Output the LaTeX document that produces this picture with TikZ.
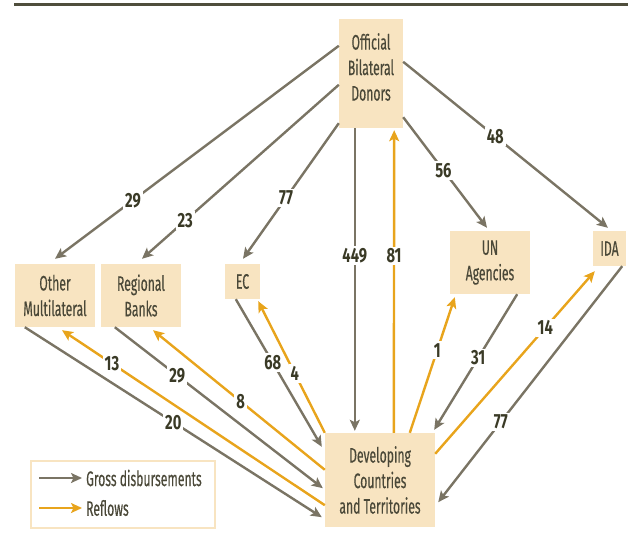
\documentclass[tikz,border=0pt]{standalone}
\usepackage{fontspec}
\setmainfont{Fira Sans}[FakeStretch=0.58,FakeBold=0.3]
\newfontfamily\lblfont{Fira Sans}[FakeStretch=0.72]
\usetikzlibrary{arrows.meta,calc}
\definecolor{boxfill}{HTML}{F8E4C1}
\definecolor{grayc}{HTML}{7A7464}
\definecolor{orangec}{HTML}{E8A41C}
\definecolor{boxtext}{HTML}{4A4838}
\definecolor{lblc}{HTML}{3A3A26}
\definecolor{rulec}{HTML}{4F4E3C}
\tikzset{
  box/.style={fill=boxfill, inner sep=0pt, anchor=center},
  btxt/.style={text=boxtext, align=center, font=\fontsize{21}{25.5}\selectfont, inner sep=0pt},
  gross/.style={draw=grayc, line width=2.4pt, -{Stealth[length=11pt,width=10pt,inset=2.5pt]}},
  refl/.style={draw=orangec, line width=2.4pt, -{Stealth[length=11pt,width=10pt,inset=2.5pt]}},
  lbl/.style={fill=white, text=lblc, font=\lblfont\bfseries\fontsize{20.5}{20.5}\selectfont, inner sep=2pt},
}
\begin{document}
\begin{tikzpicture}[x=1pt,y=-1pt]
\useasboundingbox (0,0) rectangle (629,535);
% top rule
\coordinate (r1) at (14,4.5);
\coordinate (r2) at (628,4.5);
\draw[rulec, line width=2.2pt] (r1) -- (r2);

% boxes
\node[box, minimum width=64, minimum height=109] (donor) at (371,73.5) {};
\node[btxt] (donortxt) at (371,67) {Official\\Bilateral\\Donors};
\node[box, btxt, fill=boxfill, minimum width=80, minimum height=63] (om) at (55,295.5) {Other\\Multilateral};
\node[box, btxt, fill=boxfill, minimum width=80, minimum height=63] (rb) at (141,295.5) {Regional\\Banks};
\node[box, btxt, fill=boxfill, minimum width=35, minimum height=35] (ec) at (242.5,281.5) {EC};
\node[box, btxt, fill=boxfill, minimum width=80, minimum height=63] (un) at (490,262.5) {UN\\Agencies};
\node[box, btxt, fill=boxfill, minimum width=33, minimum height=35] (ida) at (609.5,248.5) {IDA};
\node[box, btxt, fill=boxfill, minimum width=110, minimum height=94] (dev) at (380,480) {Developing\\Countries\\and Territories};

% donor outflows
\draw[gross] ([shift={(0,27)}]donor.north west) -- ([shift={(0,-5)}]om.north) node[lbl,pos=0.725]{29};
\draw[gross] ([shift={(0,66)}]donor.north west) -- ([shift={(1,-5)}]rb.north) node[lbl,pos=0.78]{23};
\draw[gross] ([shift={(0,-5)}]donor.south west) -- ([shift={(0.5,-5)}]ec.north) node[lbl,pos=0.55]{77};
\draw[gross] ([shift={(16,0)}]donor.south west) -- ([shift={(30,-2)}]dev.north west) node[lbl,pos=0.42]{449};
\draw[refl] ([shift={(69,0)}]dev.north west) -- ([shift={(-9,2)}]donor.south east) node[lbl,pos=0.584]{81};
\draw[gross] ([shift={(0,-11)}]donor.south east) -- ([shift={(-3,-3)}]un.north) node[lbl,pos=0.48]{56};
\draw[gross] ([shift={(0,43)}]donor.north east) -- ([shift={(-1.5,-3)}]ida.north) node[lbl,pos=0.45]{48};

% multilateral flows
\draw[gross] ([shift={(10,0)}]om.south west) -- ([shift={(-3,-10)}]dev.south west) node[lbl,pos=0.5]{20};
\draw[refl] ([shift={(0,-22)}]dev.south west) -- ([shift={(7,3)}]om.south) node[lbl,pos=0.81]{13};
\draw[gross] ([shift={(14,0)}]rb.south west) -- ([shift={(-2,-39)}]dev.south west) node[lbl,pos=0.3]{29};
\draw[refl] ([shift={(0,37)}]dev.north west) -- ([shift={(12,3)}]rb.south) node[lbl,pos=0.49]{8};
\draw[gross] ([shift={(11,0)}]ec.south west) -- ([shift={(-3,14)}]dev.north west) node[lbl,pos=0.43]{68};
\draw[refl] (dev.north west) -- ([shift={(-2,2)}]ec.south east) node[lbl,pos=0.45]{4};
\draw[refl] ([shift={(85,0)}]dev.north west) -- ([shift={(5,3)}]un.south west) node[lbl,pos=0.61]{1};
\draw[gross] ([shift={(-13,0)}]un.south east) -- ([shift={(-1,-3)}]dev.north east) node[lbl,pos=0.47]{31};
\draw[refl] ([shift={(0,21)}]dev.north east) -- ([shift={(2,5)}]ida.south west) node[lbl,pos=0.69]{14};
\draw[gross] ([shift={(-4,0)}]ida.south east) -- ([shift={(3,-25)}]dev.south east) node[lbl,pos=0.66]{77};

% legend
\node[draw=boxfill, line width=2pt, fill=white, minimum width=184, minimum height=67, inner sep=0pt] (legend) at (123,494.5) {};
\coordinate (g1) at (39,478);
\coordinate (g2) at (82,478);
\coordinate (o1) at (39,508);
\coordinate (o2) at (82,508);
\draw[gross] (g1) -- (g2);
\draw[refl] (o1) -- (o2);
\node[btxt, anchor=west] (gtxt) at (86,478) {Gross disbursements};
\node[btxt, anchor=west] (otxt) at (86,508) {Reflows};
\end{tikzpicture}
\end{document}
